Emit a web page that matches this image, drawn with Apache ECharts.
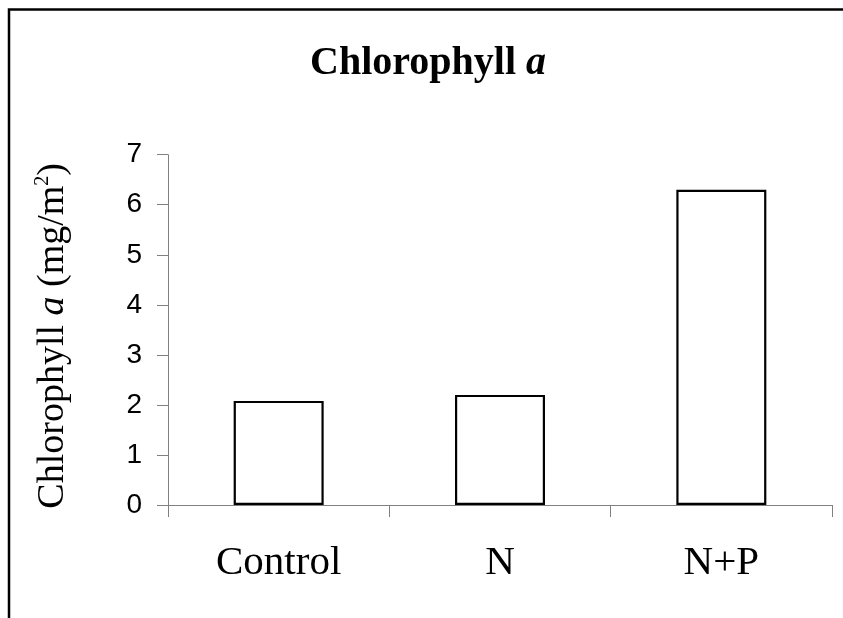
<!DOCTYPE html>
<html>
<head>
<meta charset="utf-8">
<script src="https://cdn.jsdelivr.net/npm/echarts@6/dist/echarts.min.js"></script>
<style>
  html, body { margin: 0; padding: 0; background: #ffffff; }
  #chart { width: 843px; height: 618px; }
</style>
</head>
<body>
<div id="chart"></div>
<script>
const categories = ['Control', 'N', 'N+P'];
const chlorophyllValues = [2.08, 2.20, 6.30];
const yTicks = [0, 1, 2, 3, 4, 5, 6, 7];

const chart = echarts.init(document.getElementById('chart'), null, { renderer: 'canvas' });

const serif = "'Liberation Serif', 'Times New Roman', serif";
const sans = "'Liberation Sans', Arial, sans-serif";

const option = {
  backgroundColor: '#ffffff',
  animation: false,
  title: {
    text: '{b|Chlorophyll }{bi|a}',
    left: 305,
    top: 39,
    textStyle: {
      rich: {
        b: { fontFamily: serif, fontWeight: 'bold', fontSize: 40, color: '#000' },
        bi: { fontFamily: serif, fontWeight: 'bold', fontStyle: 'italic', fontSize: 40, color: '#000' }
      }
    }
  },
  graphic: [
    {
      type: 'rect',
      silent: true,
      shape: { x: 9, y: 9.5, width: 900, height: 700 },
      style: { fill: 'none', stroke: '#000', lineWidth: 2.5 }
    }
  ],
  grid: {
    left: 168,
    right: 11,
    top: 154.7,
    bottom: 113,
    containLabel: false
  },
  xAxis: {
    type: 'category',
    data: categories,
    boundaryGap: true,
    axisLine: { lineStyle: { color: '#808080', width: 1 } },
    axisTick: { show: true, alignWithLabel: false, length: 12, lineStyle: { color: '#808080', width: 1 } },
    axisLabel: { color: '#000', fontFamily: serif, fontSize: 41, margin: 38 }
  },
  yAxis: {
    type: 'value',
    min: 0,
    max: 7,
    interval: 1,
    name: '{n|Chlorophyll }{i|a}{n| (mg/m}{s|2}{n|)}',
    nameLocation: 'middle',
    nameGap: 95,
    nameRotate: 90,
    nameTextStyle: {
      padding: [0, 12, 0, 0],
      rich: {
        n: { fontFamily: serif, fontSize: 38, color: '#000' },
        i: { fontFamily: serif, fontStyle: 'italic', fontSize: 38, color: '#000' },
        s: { fontFamily: serif, fontSize: 20, color: '#000', padding: [0, 0, 20, 0] }
      }
    },
    splitLine: { show: false },
    axisLine: { show: true, lineStyle: { color: '#808080', width: 1 } },
    axisTick: { show: true, length: 11, lineStyle: { color: '#808080', width: 1 } },
    axisLabel: {
      color: '#000',
      fontFamily: sans,
      fontSize: 28,
      margin: 26,
      formatter: function (v) { return yTicks.indexOf(v) >= 0 ? String(v) : ''; }
    }
  },
  series: [
    {
      type: 'bar',
      data: chlorophyllValues,
      barWidth: 90,
      itemStyle: { color: '#ffffff', borderColor: '#000000', borderWidth: 2.2 }
    }
  ]
};

chart.setOption(option);
</script>
</body>
</html>
